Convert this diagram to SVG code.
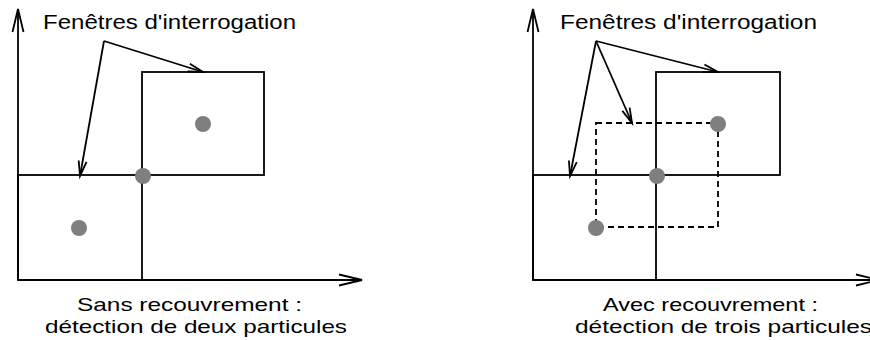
<svg xmlns="http://www.w3.org/2000/svg" width="870" height="340" viewBox="0 0 870 340">
<style>
.ln{fill:none;stroke:#000;stroke-width:1.8}
.dash{fill:none;stroke:#000;stroke-width:1.8;stroke-dasharray:6 4}
.dot{fill:#7f7f7f}
.t{font-family:"Liberation Sans",Arial,sans-serif;font-size:19.5px;fill:#000}
.b{font-family:"Liberation Sans",Arial,sans-serif;font-size:18.5px;fill:#000}
</style>
<defs>
<marker id="ah" markerUnits="userSpaceOnUse" markerWidth="20" markerHeight="12" refX="0" refY="0" viewBox="-16 -6 20 12" orient="auto" overflow="visible">
<path d="M-15,-4 L0,0 L-15,4" fill="none" stroke="#000" stroke-width="1.8"/>
</marker>
<marker id="ax" markerUnits="userSpaceOnUse" markerWidth="30" markerHeight="16" refX="0" refY="0" viewBox="-26 -8 30 16" orient="auto" overflow="visible">
<path d="M-23,-5.5 L0,0 L-23,5.5" fill="none" stroke="#000" stroke-width="1.8"/>
</marker>
</defs>

<g id="axes-left">
<line class="ln" x1="18" y1="280" x2="18" y2="9" marker-end="url(#ax)"/>
<line class="ln" x1="18" y1="280" x2="362" y2="280" marker-end="url(#ax)"/>
</g>
<g id="window-left-1"><rect class="ln" x="18" y="175" width="124" height="105"/></g>
<g id="window-left-2"><rect class="ln" x="142" y="72" width="122" height="103"/></g>
<g id="particles-left">
<circle class="dot" cx="143" cy="176" r="8"/>
<circle class="dot" cx="203" cy="124" r="8"/>
<circle class="dot" cx="79" cy="228" r="8"/>
</g>
<g id="label-left-top"><text class="t" x="43" y="29" textLength="253" lengthAdjust="spacingAndGlyphs">Fenêtres d'interrogation</text></g>
<g id="label-left-bottom">
<text class="b" x="77" y="311" textLength="225" lengthAdjust="spacingAndGlyphs">Sans recouvrement :</text>
<text class="b" x="45" y="333" textLength="302" lengthAdjust="spacingAndGlyphs">détection de deux particules</text>
</g>

<g id="axes-right">
<line class="ln" x1="533" y1="280" x2="533" y2="9" marker-end="url(#ax)"/>
<line class="ln" x1="533" y1="280" x2="879" y2="280" marker-end="url(#ax)"/>
</g>
<g id="window-right-1"><rect class="ln" x="533" y="175" width="123" height="105"/></g>
<g id="window-right-2"><rect class="ln" x="656" y="72" width="124" height="103"/></g>
<g id="window-right-3"><rect class="dash" x="596" y="123" width="122" height="104"/></g>
<g id="particles-right">
<circle class="dot" cx="657" cy="176" r="8"/>
<circle class="dot" cx="718" cy="124" r="8"/>
<circle class="dot" cx="596" cy="228" r="8"/>
</g>
<g id="label-right-top"><text class="t" x="560" y="29" textLength="257" lengthAdjust="spacingAndGlyphs">Fenêtres d'interrogation</text></g>
<g id="label-right-bottom">
<text class="b" x="603" y="311" textLength="215" lengthAdjust="spacingAndGlyphs">Avec recouvrement :</text>
<text class="b" x="575" y="333" textLength="297" lengthAdjust="spacingAndGlyphs">détection de trois particules</text>
</g>

<g id="connectors">
<line class="ln" x1="104" y1="41" x2="203" y2="72" marker-end="url(#ah)"/>
<line class="ln" x1="104" y1="41" x2="80" y2="176" marker-end="url(#ah)"/>
<line class="ln" x1="596" y1="41" x2="718" y2="72" marker-end="url(#ah)"/>
<line class="ln" x1="596" y1="41" x2="632" y2="123" marker-end="url(#ah)"/>
<line class="ln" x1="596" y1="41" x2="570" y2="176" marker-end="url(#ah)"/>
</g>
</svg>
